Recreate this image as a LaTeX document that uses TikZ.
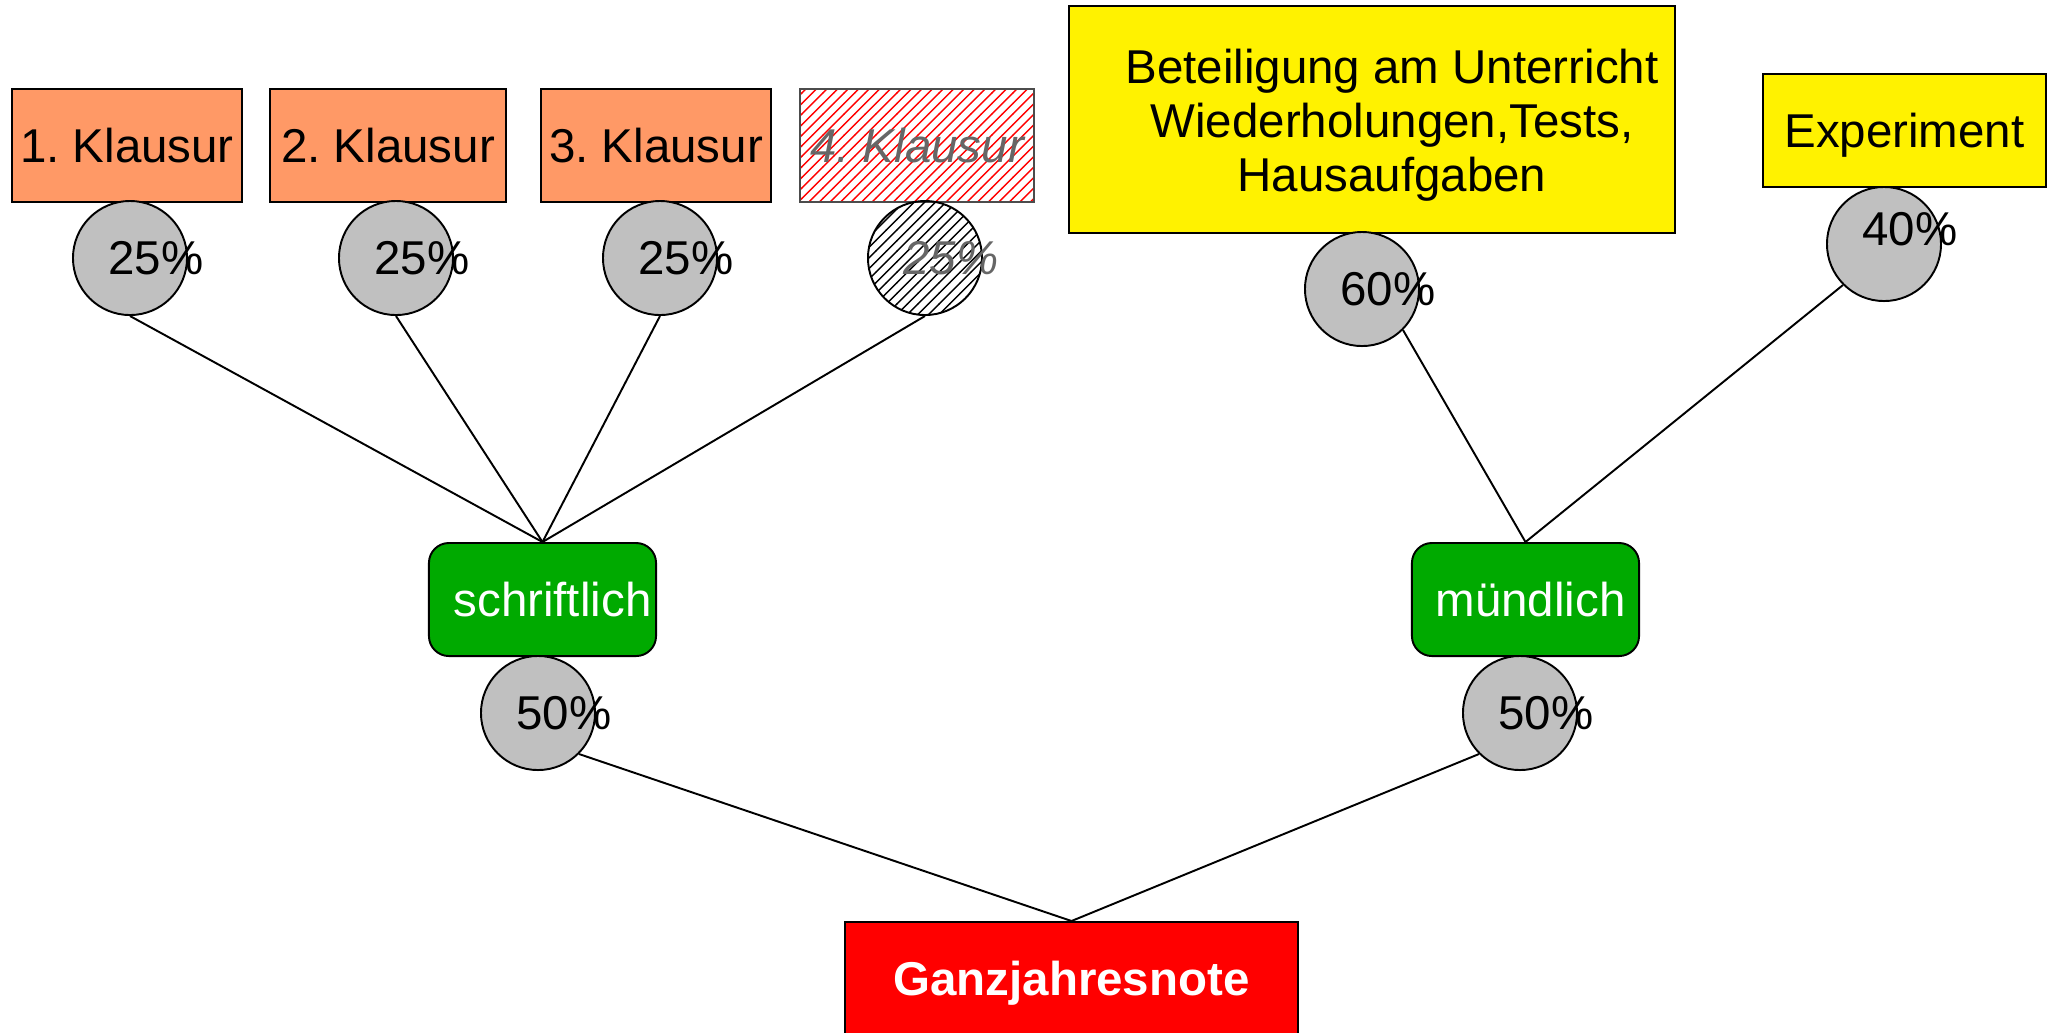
\documentclass[tikz,border=0pt]{standalone}
\usepackage{fontspec}
\setmainfont{Liberation Sans}
\usetikzlibrary{patterns}
\definecolor{klausurorange}{RGB}{255,153,102}
\definecolor{pctgray}{RGB}{192,192,192}
\definecolor{notegreen}{RGB}{0,170,0}
\definecolor{hatchgray}{RGB}{102,102,102}
\newcommand{\diagfont}{\fontsize{13.5}{15.4}\selectfont}
\begin{document}
\begin{tikzpicture}[x=0.01cm,y=-0.01cm,font=\diagfont,line width=0.55pt]
\tikzstyle{klausur} = [rectangle, draw, fill=klausurorange, text depth=0pt,
minimum width=2.3cm, minimum height=1.13cm, inner sep=0pt]
\tikzstyle{klausur_out} = [rectangle, draw=black!70, pattern=north east lines,
pattern color=red, text=hatchgray, font=\diagfont\itshape, text depth=0pt,
minimum width=2.34cm, minimum height=1.13cm, inner sep=0pt]
\tikzstyle{percent} = [circle, draw, fill=pctgray, minimum size=1.14cm, inner sep=0pt]
\tikzstyle{percent_out} = [circle, draw, pattern=north east lines, minimum size=1.14cm, inner sep=0pt]
\tikzstyle{pct} = [xshift=0.26cm]
\tikzstyle{part} = [rectangle, draw, fill=notegreen, text=white, rounded corners=0.2cm,
text depth=0pt, minimum width=2.27cm, minimum height=1.13cm, inner sep=0pt]
\tikzstyle{task} = [rectangle, draw, fill=yellow, text depth=0pt, inner sep=0pt]
\tikzstyle{total} = [rectangle, draw, fill=red, text=white, font=\diagfont\bfseries,
text depth=0pt, minimum width=4.53cm, minimum height=1.13cm, inner sep=0pt]
\tikzstyle{line} = [draw];
\useasboundingbox (0,0) rectangle (2047,1032);
% written tests
\node [klausur] (k1) at (127,145.5) {1.\ Klausur};
\node [klausur, minimum width=2.35cm] (k2) at (388,145.5) {2.\ Klausur};
\node [klausur] (k3) at (656,145.5) {3.\ Klausur};
\node [klausur_out] (k4) at (917,145.5) {4.\ Klausur};
\node [percent, label={[pct]center:25\%}] (c1) at (130,258) {};
\node [percent, label={[pct]center:25\%}] (c2) at (396,258) {};
\node [percent, label={[pct]center:25\%}] (c3) at (660,258) {};
\node [percent_out, label={[pct, text=hatchgray, font=\diagfont\itshape]center:25\%}] (c4) at (925,258) {};
% oral part
\node [task, minimum width=6.06cm, minimum height=2.27cm,
label={[xshift=0.2cm, yshift=-0.06cm, align=center]center:Beteiligung am Unterricht\\Wiederholungen,Tests,\\Hausaufgaben}]
(beteil) at (1372,119.5) {};
\node [task, minimum width=2.83cm, minimum height=1.13cm] (exper) at (1904.5,130.5) {Experiment};
\node [percent, label={[pct]center:60\%}] (c60) at (1362,289) {};
\node [percent, label={[pct, yshift=0.15cm]center:40\%}] (c40) at (1884,244) {};
% parts
\node [part] (schr) at (542.5,599.5) {\hspace*{0.2cm}schriftlich};
\node [part] (mu) at (1525.5,599.5) {\hspace*{0.1cm}mündlich};
\node [percent, label={[pct]center:50\%}] (cs) at (538,713) {};
\node [percent, label={[pct]center:50\%}] (cm) at (1520,713) {};
\node [total] (note) at (1071.5,978.5) {Ganzjahresnote};
\tikzstyle{every path}=[line]
\path (c1.south) -- (schr.north);
\path (c2.south) -- (schr.north);
\path (c3.south) -- (schr.north);
\path (c4.south) -- (schr.north);
\path (c60.south east) -- (mu.north);
\path (c40.south west) -- (mu.north);
\path (cs.south east) -- (note.north);
\path (cm.south west) -- (note.north);
\end{tikzpicture}
\end{document}
